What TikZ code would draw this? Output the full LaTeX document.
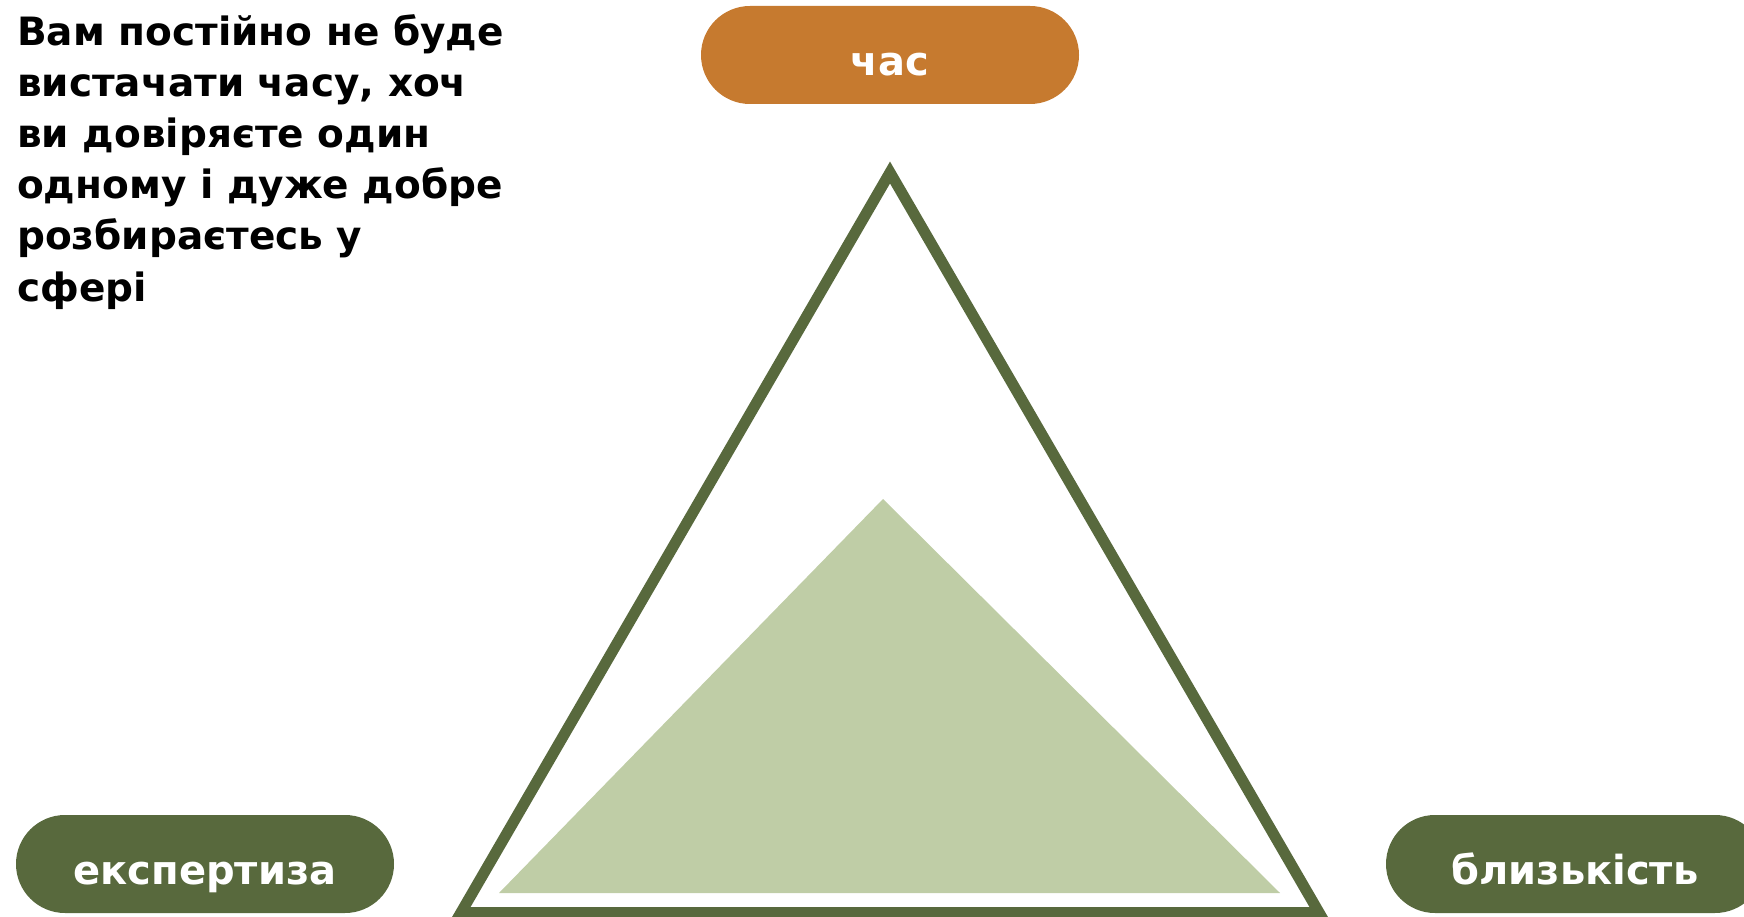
\documentclass[tikz,border=0pt]{standalone}
\usepackage{fontspec}
\setmainfont{DejaVu Sans}
\usetikzlibrary{shapes.misc}
\definecolor{darkgreen}{HTML}{58693D}
\definecolor{sage}{HTML}{BFCDA6}
\definecolor{ochre}{HTML}{C67A2F}
\tikzset{
  pill/.style={rounded rectangle, minimum width=378pt, minimum height=98pt, inner sep=0pt,
    text height=41pt, text depth=0pt,
    text=white, font=\fontsize{40}{48}\selectfont\bfseries},
  bodyline/.style={anchor=base west, inner sep=0pt, text=black, font=\fontsize{39}{51}\selectfont\bfseries}
}
\begin{document}
\begin{tikzpicture}[x=1pt,y=-1pt]
\useasboundingbox (0,0) rectangle (1744,917);
\clip (0,0) rectangle (1744,917);
% outer triangle
\coordinate (tA) at (890,172.5);
\coordinate (tL) at (461,912.5);
\coordinate (tR) at (1319,912.5);
\draw[darkgreen, line width=11pt, line join=miter] (tA) -- (tL) -- (tR) -- cycle;
% inner filled triangle
\coordinate (gA) at (883,499);
\coordinate (gL) at (499,893);
\coordinate (gR) at (1280,893);
\fill[sage] (gA) -- (gL) -- (gR) -- cycle;
% pills
\node[pill, fill=ochre] (time) at (890,55) {час};
\node[pill, fill=darkgreen] (expert) at (205,864) {експертиза};
\node[pill, fill=darkgreen] (close) at (1575,864) {близькість};
% body text
\node[bodyline] (l1) at (17,46) {Вам постійно не буде};
\node[bodyline] (l2) at (17,97) {вистачати часу, хоч};
\node[bodyline] (l3) at (17,148) {ви довіряєте один};
\node[bodyline] (l4) at (17,199) {одному і дуже добре};
\node[bodyline] (l5) at (17,250) {розбираєтесь у};
\node[bodyline] (l6) at (17,301) {сфері};
\end{tikzpicture}
\end{document}
